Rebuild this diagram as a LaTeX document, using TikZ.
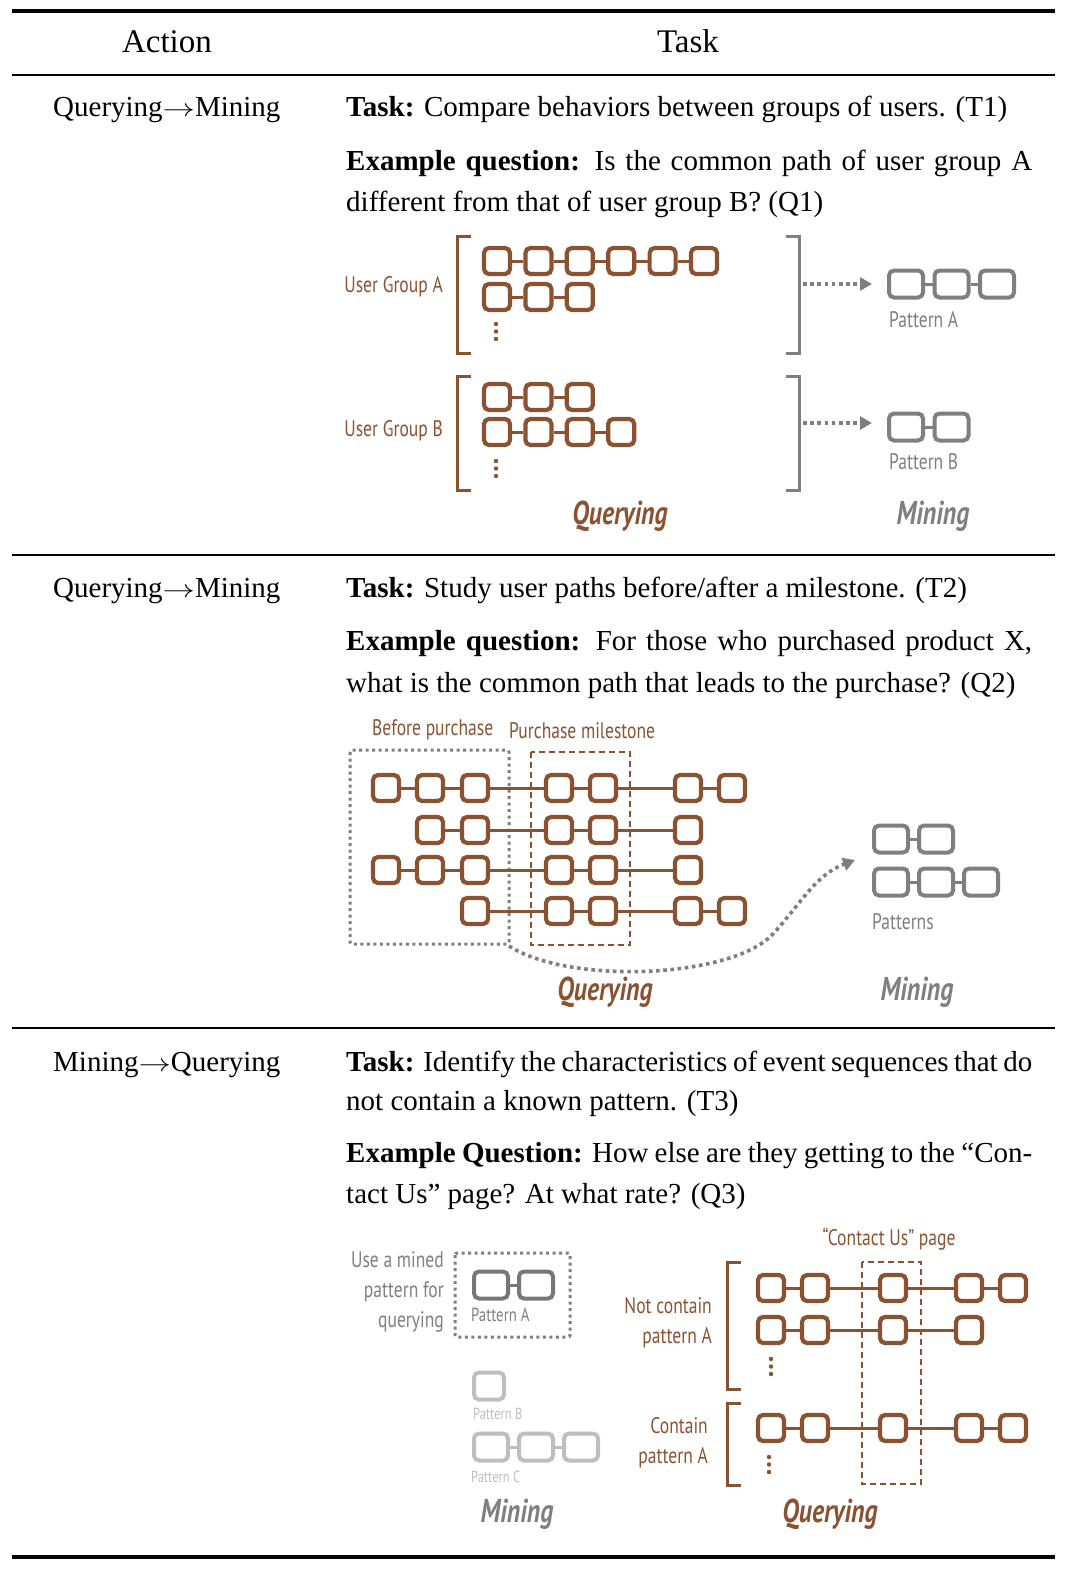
\documentclass[tikz,border=0pt]{standalone}
\usepackage{fontspec}
\setmainfont{Liberation Serif}
\newfontfamily\lab[FakeStretch=0.78]{PT Sans}
\usetikzlibrary{arrows.meta}
\definecolor{brn}{HTML}{8B5232}
\definecolor{gry}{HTML}{7F7F7F}
\definecolor{lgry}{HTML}{BEBEBE}
\definecolor{dgry}{HTML}{777777}
\newcommand\myarr{\scalebox{1.3}[1]{$\rightarrow$}}
\begin{document}
\begin{tikzpicture}[x=1pt,y=-1pt,
  txt/.style={anchor=base west,inner sep=0,font=\fontsize{29}{42}\selectfont},
  hdr/.style={anchor=base,inner sep=0,font=\fontsize{33}{42}\selectfont},
  lbl/.style={inner sep=0,font=\lab\fontsize{22.5}{30}\selectfont,text=brn},
  glbl/.style={lbl,text=gry},
  slbl/.style={inner sep=0,font=\lab\fontsize{16}{20}\selectfont,text=lgry},
  big/.style={inner sep=0,font=\lab\bfseries\itshape\fontsize{33}{36}\selectfont},
  bx/.style={draw=brn,line width=4.2,rounded corners=5,minimum width=26,minimum height=26,inner sep=0},
  gbx/.style={draw=gry,line width=4,rounded corners=5,minimum width=34,minimum height=27,inner sep=0},
  cn/.style={draw=brn,line width=3},
  gcn/.style={draw=gry,line width=3},
  brk/.style={draw=brn,line width=3},
  gbrk/.style={draw=gry,line width=3},
  darr/.style={draw=gry,line width=3.6,dash pattern=on 3.6 off 3.6,-{Triangle[length=12,width=13]}},
  gdot/.style={draw=gry,line width=3,dash pattern=on 3 off 3.5,rounded corners=2},
  bdash/.style={draw=brn,line width=1.8,dash pattern=on 6 off 4},
  vdots/.style={fill=brn}
]
\useasboundingbox (0,0) rectangle (1070,1570);
% rules
\draw[line width=3.5] (12,11) -- (1055,11);
\draw[line width=2] (12,75) -- (1055,75);
\draw[line width=1.6] (12,555) -- (1055,555);
\draw[line width=1.6] (12,1028) -- (1055,1028);
\draw[line width=3.5] (12,1557) -- (1055,1557);
% header
\node[hdr] (hAct) at (167,53) {Action};
\node[hdr] (hTask) at (688,53) {Task};
% ===== row 1 text
\node[txt] (a1) at (53,117) {Querying\myarr Mining};
\node[txt] (t1) at (346,117) {\textbf{Task:} Compare behaviors between groups of users. (T1)};
\node[txt] (e1a) at (346,171) {\makebox[686pt][s]{\textbf{Example question:} Is the common path of user group A}};
\node[txt] (e1b) at (346,212) {different from that of user group B? (Q1)};
% ===== row 2 text
\node[txt] (a2) at (53,597) {Querying\myarr Mining};
\node[txt] (t2) at (346,597) {\textbf{Task:} Study user paths before/after a milestone. (T2)};
\node[txt] (e2a) at (346,650) {\makebox[686pt][s]{\textbf{Example question:} For those who purchased product X,}};
\node[txt] (e2b) at (346,692) {what is the common path that leads to the purchase? (Q2)};
% ===== row 3 text
\node[txt] (a3) at (53,1071) {Mining\myarr Querying};
\node[txt] (t3a) at (346,1071) {\makebox[686pt][s]{\textbf{Task:} Identify the characteristics of event sequences that do}};
\node[txt] (t3b) at (346,1110) {not contain a known pattern. (T3)};
\node[txt] (e3a) at (346,1162) {\makebox[686pt][s]{\textbf{Example Question:} How else are they getting to the “Con-}};
\node[txt] (e3b) at (346,1203) {tact Us” page? At what rate? (Q3)};

% ===== Section 1 diagram
\node[lbl,anchor=east] (lga) at (443,287) {User Group A};
\node[lbl,anchor=east] (lgb) at (443,431) {User Group B};
\draw[brk] (471,237) -- (457,237) -- (457,353) -- (471,353);
\draw[brk] (471,376) -- (457,376) -- (457,490) -- (471,490);
\draw[gbrk] (786,237) -- (799,237) -- (799,353) -- (786,353);
\draw[gbrk] (786,376) -- (799,376) -- (799,490) -- (786,490);
\foreach \c in {0,...,5} \node[bx] (ua\c) at ({497+41.4*\c},261) {};
\foreach \c in {1,...,5} {\pgfmathtruncatemacro\p{\c-1}\draw[cn] (ua\p) -- (ua\c);}
\foreach \c in {0,...,2} \node[bx] (ub\c) at ({497+41.4*\c},297) {};
\foreach \c in {1,...,2} {\pgfmathtruncatemacro\p{\c-1}\draw[cn] (ub\p) -- (ub\c);}
\foreach \y in {324,331.5,339} \fill[vdots] (496,\y) circle (2.2);
\foreach \c in {0,...,2} \node[bx] (va\c) at ({497+41.4*\c},397) {};
\foreach \c in {1,...,2} {\pgfmathtruncatemacro\p{\c-1}\draw[cn] (va\p) -- (va\c);}
\foreach \c in {0,...,3} \node[bx] (vb\c) at ({497+41.4*\c},432) {};
\foreach \c in {1,...,3} {\pgfmathtruncatemacro\p{\c-1}\draw[cn] (vb\p) -- (vb\c);}
\foreach \y in {461,468.5,476} \fill[vdots] (496,\y) circle (2.2);
% patterns
\foreach \c in {0,...,2} \node[gbx] (pa\c) at ({906+45.5*\c},284) {};
\foreach \c in {1,...,2} {\pgfmathtruncatemacro\p{\c-1}\draw[gcn] (pa\p) -- (pa\c);}
\foreach \c in {0,...,1} \node[gbx] (pb\c) at ({906+45.5*\c},427) {};
\draw[gcn] (pb0) -- (pb1);
\coordinate (ra) at (803,284);
\coordinate (rb) at (803,423);
\draw[darr,shorten >=15] (ra) -- (ra -| pa0.west);
\draw[darr,shorten >=15] (rb) -- (rb -| pb0.west);
\node[glbl,anchor=west] (lpa) at (889,320) {Pattern A};
\node[glbl,anchor=west] (lpb) at (889,462) {Pattern B};
\node[big,text=brn] (q1) at (620,516) {Querying};
\node[big,text=gry] (m1) at (933,516) {Mining};

% ===== Section 2 diagram
\node[lbl,anchor=west] (lbp) at (372,730) {Before purchase};
\node[lbl,anchor=west] (lpm) at (509,731) {Purchase milestone};
\draw[gdot] (350,750) rectangle (509,944);
\draw[bdash] (531,752) rectangle (630,945);
\foreach \c/\x in {0/386,1/430,2/475,3/559,4/603,5/688,6/732} \node[bx] (r1c\c) at (\x,788) {};
\foreach \c in {1,...,6} {\pgfmathtruncatemacro\p{\c-1}\draw[cn] (r1c\p) -- (r1c\c);}
\foreach \c/\x in {1/430,2/475,3/559,4/603,5/688} \node[bx] (r2c\c) at (\x,830) {};
\foreach \c in {2,...,5} {\pgfmathtruncatemacro\p{\c-1}\draw[cn] (r2c\p) -- (r2c\c);}
\foreach \c/\x in {0/386,1/430,2/475,3/559,4/603,5/688} \node[bx] (r3c\c) at (\x,870) {};
\foreach \c in {1,...,5} {\pgfmathtruncatemacro\p{\c-1}\draw[cn] (r3c\p) -- (r3c\c);}
\foreach \c/\x in {2/475,3/559,4/603,5/688,6/732} \node[bx] (r4c\c) at (\x,911) {};
\foreach \c in {3,...,6} {\pgfmathtruncatemacro\p{\c-1}\draw[cn] (r4c\p) -- (r4c\c);}
\foreach \c in {0,...,1} \node[gbx] (ps\c) at ({891+45*\c},839) {};
\draw[gcn] (ps0) -- (ps1);
\foreach \c in {0,...,2} \node[gbx] (pt\c) at ({891+45*\c},882) {};
\foreach \c in {1,...,2} {\pgfmathtruncatemacro\p{\c-1}\draw[gcn] (pt\p) -- (pt\c);}
\node[glbl,anchor=west] (lps) at (872,922) {Patterns};
\coordinate (cs) at (509,946);
\coordinate (ce) at (855,860);
\draw[darr] (cs) .. controls (570,985) and (730,978) .. (772,935) .. controls (800,905) and (815,875) .. (ce);
\node[big,text=brn] (q2) at (605,992) {Querying};
\node[big,text=gry] (m2) at (917,992) {Mining};

% ===== Section 3 diagram
\node[glbl,anchor=east,align=right] (lum) at (444,1292) {Use a mined\\pattern for\\querying};
\draw[gdot] (455,1253) rectangle (570,1337);
\foreach \c in {0,...,1} \node[gbx,draw=dgry] (qa\c) at ({491+45*\c},1285) {};
\draw[gcn,draw=dgry] (qa0) -- (qa1);
\node[glbl,anchor=west,font=\lab\fontsize{19}{24}\selectfont] (lqa) at (471,1315) {Pattern A};
\node[gbx,draw=lgry,minimum width=30] (qb0) at (489,1386) {};
\node[slbl,anchor=west] (lqb) at (473,1414) {Pattern B};
\foreach \c in {0,...,2} \node[gbx,draw=lgry] (qc\c) at ({491+45*\c},1447) {};
\foreach \c in {1,...,2} {\pgfmathtruncatemacro\p{\c-1}\draw[gcn,draw=lgry] (qc\p) -- (qc\c);}
\node[slbl,anchor=west] (lqc) at (471,1477) {Pattern C};
\node[big,text=gry] (m3) at (517,1514) {Mining};

\node[lbl] (lcu) at (889,1239) {“Contact Us” page};
\node[lbl,anchor=east,align=right] (lnc) at (712,1323) {Not contain\\pattern A};
\node[lbl,anchor=east,align=right] (lc) at (708,1443) {Contain\\pattern A};
\draw[brk] (741,1262) -- (727,1262) -- (727,1389) -- (741,1389);
\draw[brk] (741,1403) -- (727,1403) -- (727,1485) -- (741,1485);
\draw[bdash] (862,1262) rectangle (921,1484);
\foreach \c/\x in {0/771,1/815,2/893,3/969,4/1013} \node[bx] (s1c\c) at (\x,1288) {};
\foreach \c in {1,...,4} {\pgfmathtruncatemacro\p{\c-1}\draw[cn] (s1c\p) -- (s1c\c);}
\foreach \c/\x in {0/771,1/815,2/893,3/969} \node[bx] (s2c\c) at (\x,1330) {};
\foreach \c in {1,...,3} {\pgfmathtruncatemacro\p{\c-1}\draw[cn] (s2c\p) -- (s2c\c);}
\foreach \y in {1359,1366.5,1374} \fill[vdots] (771,\y) circle (2.2);
\foreach \c/\x in {0/771,1/815,2/893,3/969,4/1013} \node[bx] (s3c\c) at (\x,1428) {};
\foreach \c in {1,...,4} {\pgfmathtruncatemacro\p{\c-1}\draw[cn] (s3c\p) -- (s3c\c);}
\foreach \y in {1457,1464.5,1472} \fill[vdots] (769,\y) circle (2.2);
\node[big,text=brn] (q3) at (830,1514) {Querying};
\end{tikzpicture}
\end{document}
